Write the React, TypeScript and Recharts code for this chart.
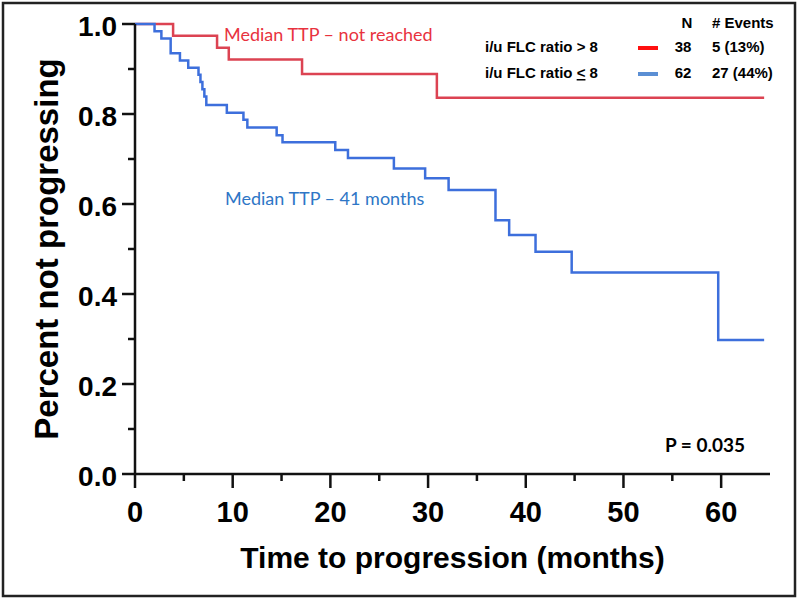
import React from 'react';
import { LineChart, Line, XAxis, YAxis, Customized } from 'recharts';

// Kaplan-Meier steps (months, fraction not progressing)
const redTimes = [0, 3.9, 8.4, 9.6, 17.1, 30.9, 64.4];
const redSurv = [1, 0.974, 0.947, 0.921, 0.889, 0.836, 0.836];

const blueTimes = [0, 2.0, 2.7, 3.65, 4.6, 5.45, 6.5, 6.7, 6.9, 7.1, 7.3, 9.4, 11.1, 11.5, 14.5, 15.1, 20.5, 21.8, 26.5, 29.7, 32.1, 36.9, 38.3, 41.0, 44.7, 59.7, 64.4];
const blueSurv = [1, 0.984, 0.968, 0.935, 0.919, 0.903, 0.887, 0.871, 0.855, 0.839, 0.82, 0.803, 0.787, 0.77, 0.753, 0.737, 0.72, 0.702, 0.679, 0.657, 0.631, 0.564, 0.531, 0.494, 0.448, 0.298, 0.298];

const xTicks = [0, 5, 10, 15, 20, 25, 30, 35, 40, 45, 50, 55, 60];
const yTicks = [0, 0.1, 0.2, 0.3, 0.4, 0.5, 0.6, 0.7, 0.8, 0.9, 1.0];

const groupLabels = ['i/u FLC ratio > 8', 'i/u FLC ratio ≤ 8'];
const groupN = ['38', '62'];
const groupEvents = ['5 (13%)', '27 (44%)'];

const RED = '#dc4352';
const BLUE = '#3d6fdc';
const AXIS = '#111';
const ARIAL = '"Liberation Sans", Arial, sans-serif';
const CALIBRI = 'Lato, "Open Sans", sans-serif';

const redData = redTimes.map((t, i) => ({ t, s: redSurv[i] }));
const blueData = blueTimes.map((t, i) => ({ t, s: blueSurv[i] }));

const YTick = (props: any) => {
  const { x, y, payload } = props;
  const major = Math.round(payload.value * 10) % 2 === 0;
  return (
    <g>
      <line x1={x - (major ? 13 : 7)} x2={x} y1={y} y2={y} stroke={AXIS} strokeWidth={2.5} />
      {major && (
        <text x={x - 18} y={y + 12} textAnchor="end" fontFamily={ARIAL} fontWeight={700} fontSize={28} fill="#000">
          {payload.value.toFixed(1)}
        </text>
      )}
    </g>
  );
};

const XTick = (props: any) => {
  const { x, y, payload } = props;
  const major = payload.value % 10 === 0;
  return (
    <g>
      <line x1={x} x2={x} y1={y} y2={y + (major ? 14 : 7)} stroke={AXIS} strokeWidth={2.5} />
      {major && (
        <text x={x} y={y + 48} textAnchor="middle" fontFamily={ARIAL} fontWeight={700} fontSize={29} fill="#000">
          {payload.value}
        </text>
      )}
    </g>
  );
};

const Overlay = () => {
  const legendColors = ['#ff1010', '#5b8fd4'];
  const rowY = [52, 78];
  return (
    <g>
      <rect x={3} y={3} width={792} height={593} fill="none" stroke="#222" strokeWidth={2.5} />
      <text x={224} y={41} fontFamily={CALIBRI} fontSize={18} fill="#e8323e">Median TTP – not reached</text>
      <text x={225} y={205} fontFamily={CALIBRI} fontSize={18} fill="#2e76c6">Median TTP – 41 months</text>
      <text x={665} y={452} fontFamily={CALIBRI} fontWeight={700} fontSize={19} fill="#000">P = 0.035</text>
      <g fontFamily={ARIAL} fontWeight={700} fontSize={15} fill="#000">
        <text x={687} y={28} textAnchor="middle">N</text>
        <text x={712} y={28}>{'# Events'}</text>
        {groupLabels.map((lab, i) => (
          <g key={lab}>
            {i === 0 ? (
              <text x={485} y={rowY[i]}>{lab}</text>
            ) : (
              <text x={485} y={rowY[i]}>
                {'i/u FLC ratio '}
                <tspan textDecoration="underline">{'<'}</tspan>
                {' 8'}
              </text>
            )}
            <line x1={638} x2={658} y1={rowY[i] - 4} y2={rowY[i] - 4} stroke={legendColors[i]} strokeWidth={4} />
            <text x={683} y={rowY[i]} textAnchor="middle">{groupN[i]}</text>
            <text x={712} y={rowY[i]}>{groupEvents[i]}</text>
          </g>
        ))}
      </g>
    </g>
  );
};

export default function App() {
  return (
    <div style={{ position: 'absolute', left: 0, top: 0, width: 800, height: 600, background: '#fff' }}>
      <LineChart width={800} height={600} margin={{ top: 24, right: 30, bottom: 0, left: 0 }}>
        <XAxis
          type="number"
          dataKey="t"
          domain={[0, 65]}
          ticks={xTicks}
          interval={0}
          height={126}
          tickSize={0}
          tickMargin={0}
          tick={(p: any) => <XTick {...p} />}
          axisLine={{ stroke: AXIS, strokeWidth: 2.5 }}
          tickLine={false}
          label={{
            value: 'Time to progression (months)',
            position: 'insideBottom',
            offset: 32,
            style: { fontFamily: ARIAL, fontWeight: 700, fontSize: 30, fill: '#000' },
          }}
        />
        <YAxis
          type="number"
          domain={[0, 1]}
          ticks={yTicks}
          interval={0}
          width={135}
          tickSize={0}
          tickMargin={0}
          tick={(p: any) => <YTick {...p} />}
          axisLine={{ stroke: AXIS, strokeWidth: 2.5 }}
          tickLine={false}
          label={{
            value: 'Percent not progressing',
            angle: -90,
            position: 'insideLeft',
            offset: 46,
            style: { textAnchor: 'middle', fontFamily: ARIAL, fontWeight: 700, fontSize: 33, fill: '#000' },
          }}
        />
        <Line data={redData} dataKey="s" type="stepAfter" stroke={RED} strokeWidth={2.5} dot={false} isAnimationActive={false} />
        <Line data={blueData} dataKey="s" type="stepAfter" stroke={BLUE} strokeWidth={2.5} dot={false} isAnimationActive={false} />
        <Customized component={Overlay} />
      </LineChart>
    </div>
  );
}
